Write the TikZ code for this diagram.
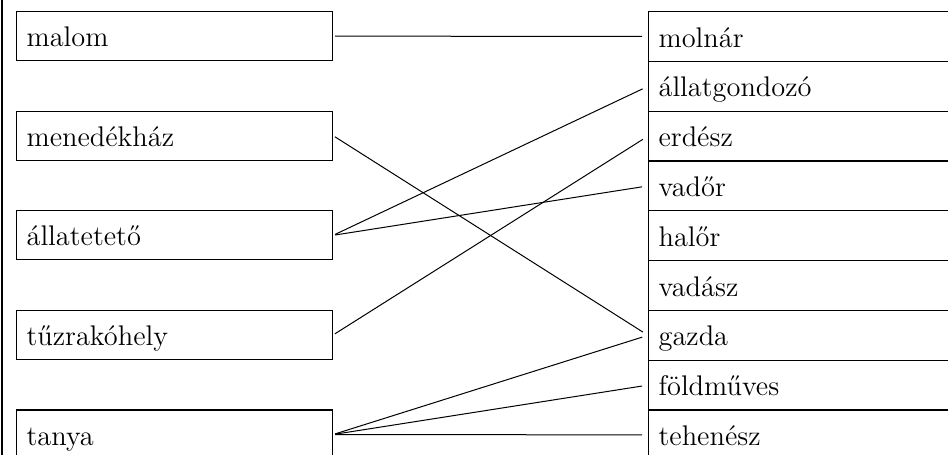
\documentclass[tikz,border=0pt]{standalone}
\usetikzlibrary{positioning}
\tikzset{
  cell/.style={draw, line width=0.6pt, anchor=north west, align=left,
    inner xsep=5pt, inner ysep=0pt, text height=12pt, text depth=1.5pt,
    font=\fontsize{14.2pt}{17pt}\selectfont},
  leftbox/.style={cell, text width=148pt, minimum height=24.5pt},
  rightbox/.style={cell, text width=150pt, minimum height=24.9pt},
  link/.style={line width=0.5pt, shorten <=1pt, shorten >=3pt}
}
\begin{document}
\begin{tikzpicture}[x=0.5pt, y=-0.5pt]
\useasboundingbox (0,0) rectangle (948,455);
\clip (0,0) rectangle (948,455);
% frame line on the left
\draw[line width=0.6pt] (2,0) -- (2,455);
% places
\foreach \txt [count=\k] in {malom, menedékház, állatetető, tűzrakóhely, tanya}
  \node[leftbox] (l\k) at (16,{11+99.6*(\k-1)}) {\txt};
% occupations
\foreach \txt [count=\i] in {molnár, állatgondozó, erdész, vadőr, halőr, vadász, gazda, földműves, tehenész}
  \node[rightbox] (r\i) at (648,{11+49.8*(\i-1)}) {\txt};
% pairs
\draw[link] (l1.east) -- (r1.west);
\draw[link] (l2.east) -- (r7.west);
\draw[link] (l3.east) -- (r2.west);
\draw[link] (l3.east) -- (r4.west);
\draw[link] (l4.east) -- (r3.west);
\draw[link] (l5.east) -- (r7.west);
\draw[link] (l5.east) -- (r8.west);
\draw[link] (l5.east) -- (r9.west);
\end{tikzpicture}
\end{document}
